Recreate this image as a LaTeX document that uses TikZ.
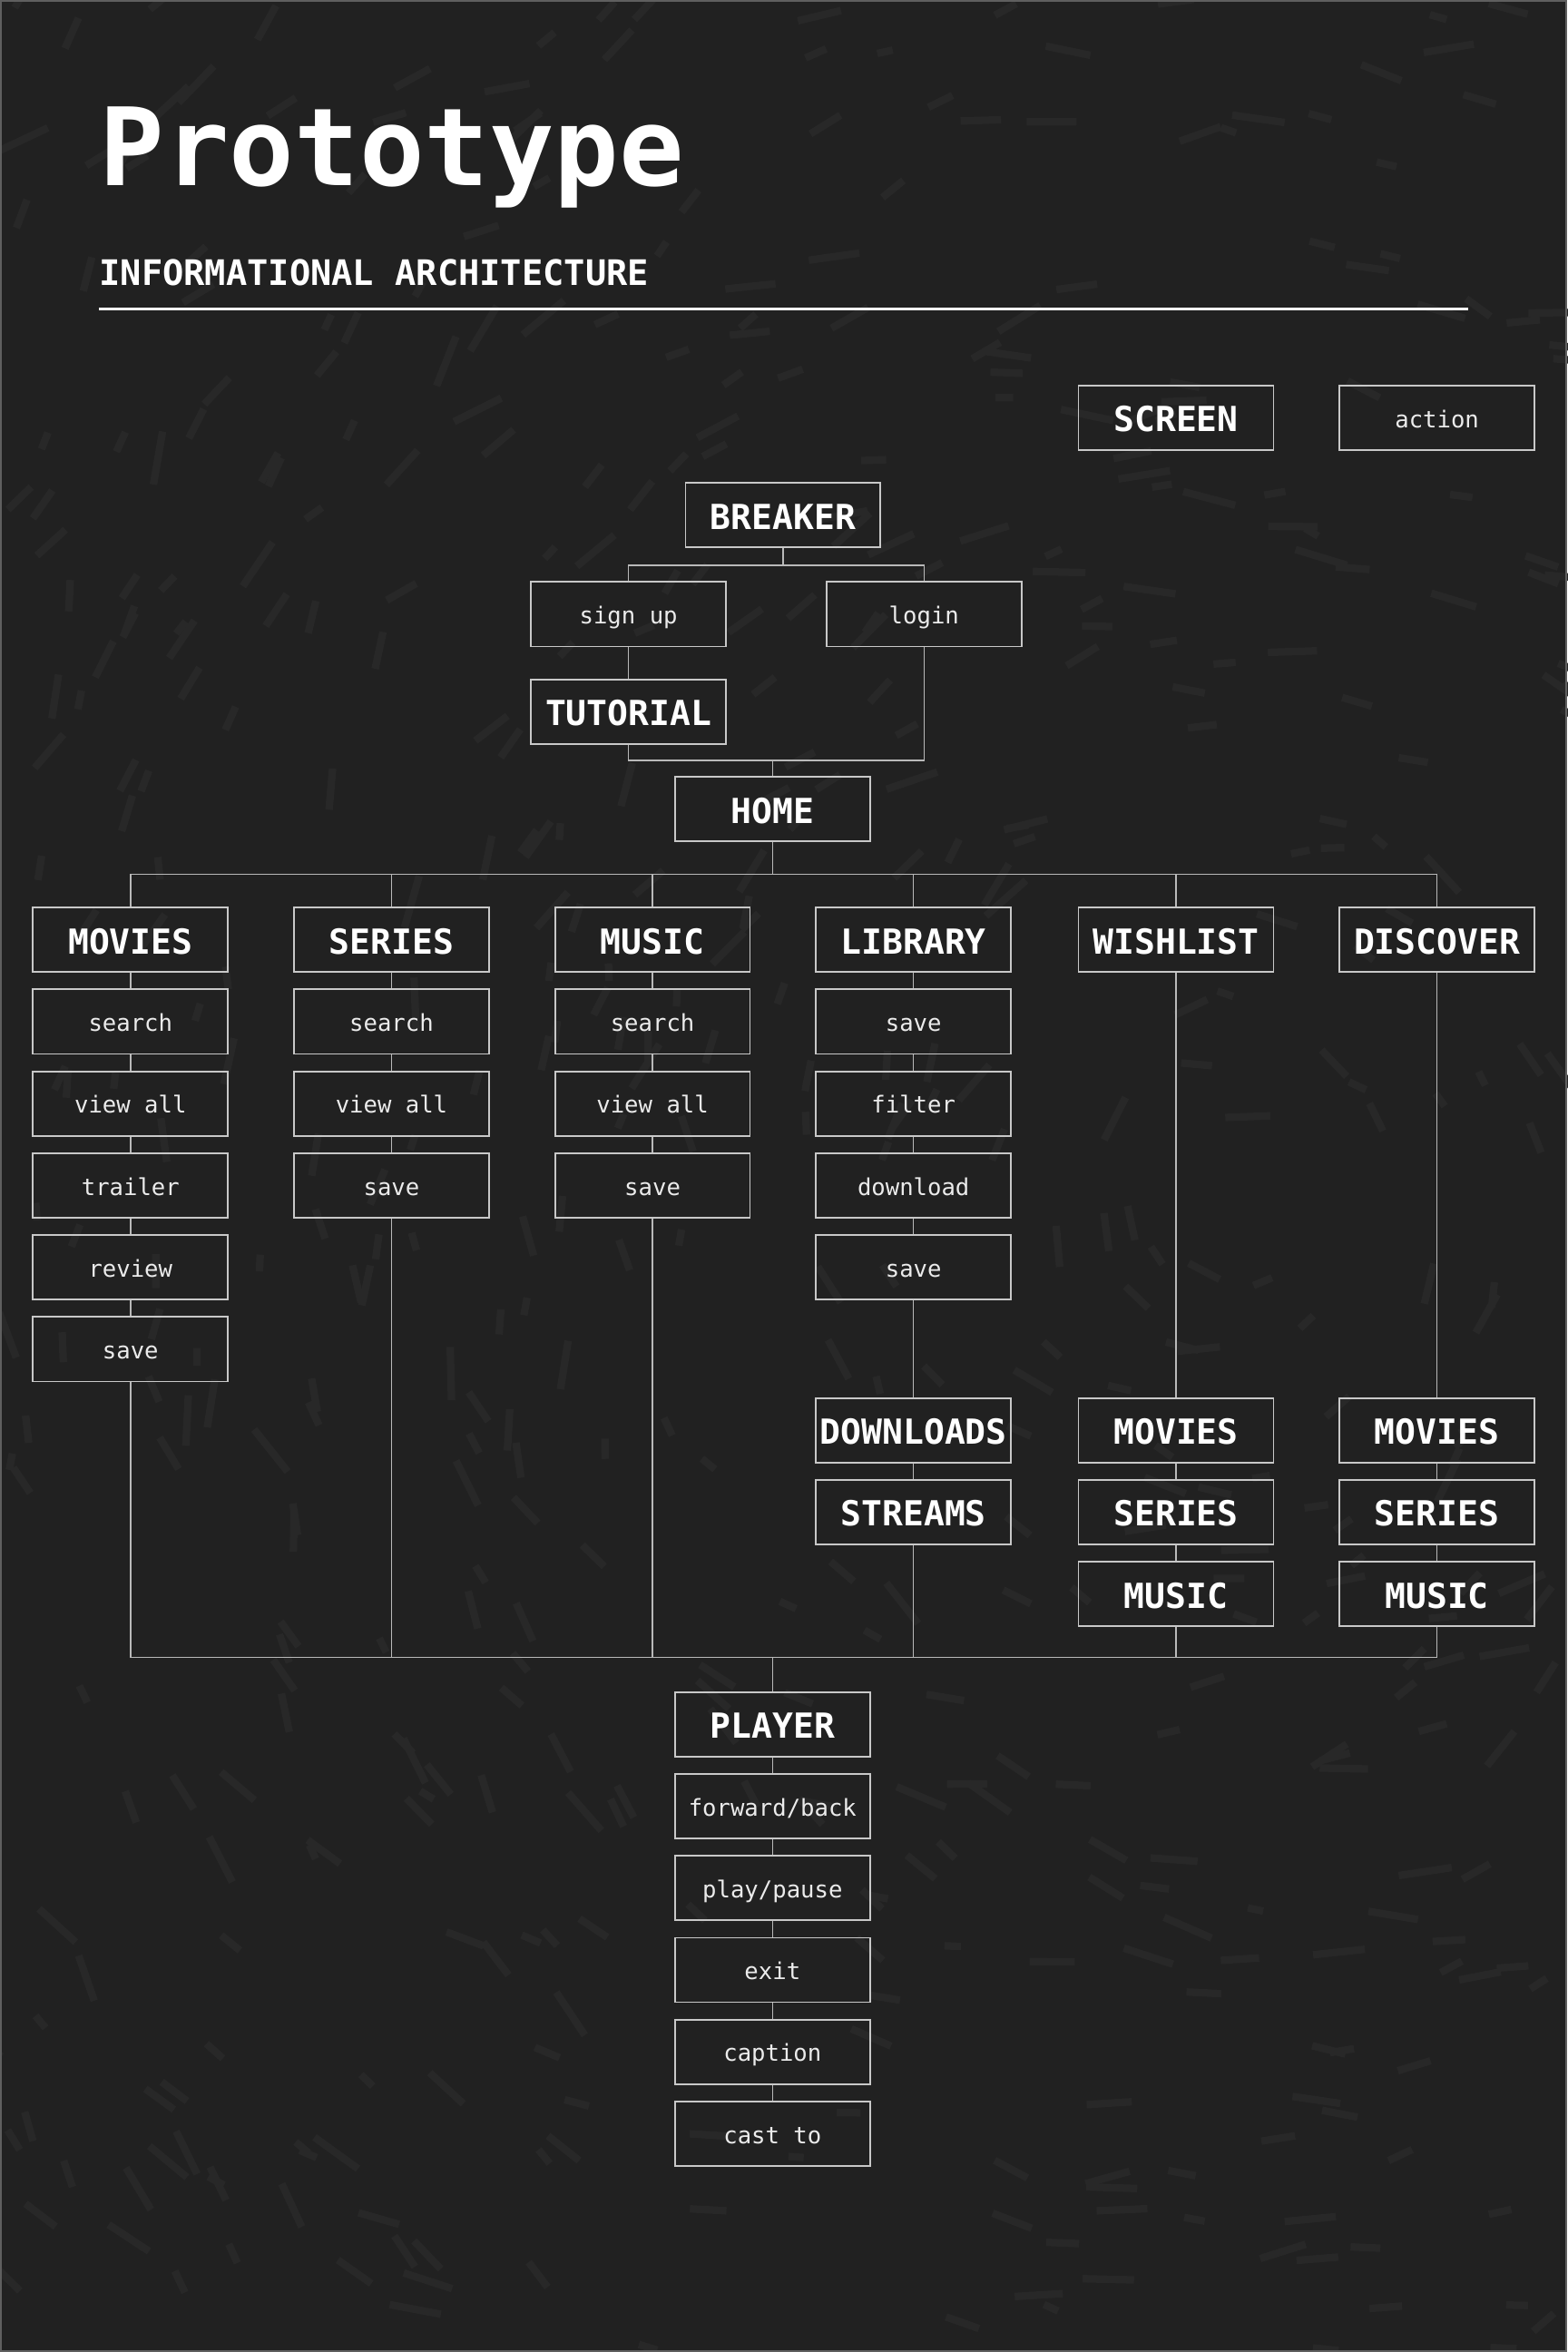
\documentclass[tikz,border=0pt]{standalone}
\usepackage{fontspec}
\setmainfont{DejaVu Sans Mono}
\usetikzlibrary{positioning}
\definecolor{bgdark}{RGB}{33,33,33}
\definecolor{bgspeck}{RGB}{40,40,40}
\definecolor{edgegray}{RGB}{95,95,95}
\definecolor{linegray}{RGB}{185,185,185}
\definecolor{framegray}{RGB}{200,200,200}
\tikzset{
  screenbox/.style={draw=framegray, line width=1.1pt, minimum width=130pt, minimum height=43pt,
    inner sep=0pt, text=white, font=\fontsize{23}{23}\selectfont\bfseries,
    text height=18.6pt, text depth=0pt},
  actionbox/.style={draw=framegray, line width=1.1pt, minimum width=130pt, minimum height=43pt,
    inner sep=0pt, text=white!92!black, font=\fontsize{15.5}{15.5}\selectfont,
    text height=13pt, text depth=0pt},
  wireline/.style={draw=linegray, line width=0.9pt}
}

\begin{document}
\begin{tikzpicture}[x=1pt,y=-1pt]
    % page
    \fill[bgdark] (0,0) rectangle (1045,1568);
    \useasboundingbox (0,0) rectangle (1045,1568);
    \pgfmathsetseed{11}
    \foreach \i in {1,...,520} {
      \pgfmathsetmacro\px{rnd*1045}
      \pgfmathsetmacro\py{rnd*1568}
      \pgfmathsetmacro\ang{atan2(\py-800,\px-820)+90+rand*25}
      \pgfmathsetmacro\len{10+rnd*26}
      \draw[bgspeck, line width=5pt] (\px,\py) -- ++(\ang:\len);
    }
    \draw[edgegray, line width=1.2pt] (0.6,0.6) rectangle (1044.4,1567.4);

    % title
    \node[anchor=base west, inner sep=0pt, text=white, font=\fontsize{72}{72}\selectfont\bfseries] (title) at (66,124) {Prototype};
    \node[anchor=base west, inner sep=0pt, text=white, font=\fontsize{23.4}{23.4}\selectfont\bfseries] (subtitle) at (66,190) {INFORMATIONAL ARCHITECTURE};
    \draw[white, line width=2pt] (66,206) -- (979,206);

    % legend
    \node[screenbox] (legscreen) at (784,278.5) {SCREEN};
    \node[actionbox] (legaction) at (958,278.5) {action};

    % entry
    \node[screenbox] (breaker) at (522,343.5) {BREAKER};
    \node[actionbox] (signup) at (419,409.5) {sign up};
    \node[actionbox] (login) at (616,409.5) {login};
    \node[screenbox] (tutorial) at (419,474.5) {TUTORIAL};
    \node[screenbox] (home) at (515,539.5) {HOME};

    \coordinate (bbus) at (522,377);
    \draw[wireline] (breaker) -- (bbus);
    \draw[wireline] (bbus) -| (signup.north);
    \draw[wireline] (bbus) -| (login.north);
    \draw[wireline] (signup) -- (tutorial);
    \coordinate (tbus) at (515,507);
    \draw[wireline] (tutorial.south) |- (tbus);
    \draw[wireline] (login.south) |- (tbus);
    \draw[wireline] (tbus) -- (home);

    % sections
    \node[screenbox] (movies) at (87,626.5) {MOVIES};
    \node[actionbox] (mvsearch) at (87,681.1) {search};
    \node[actionbox] (mvviewall) at (87,735.7) {view all};
    \node[actionbox] (mvtrailer) at (87,790.3) {trailer};
    \node[actionbox] (mvreview) at (87,844.9) {review};
    \node[actionbox] (mvsave) at (87,899.5) {save};

    \node[screenbox] (series) at (261,626.5) {SERIES};
    \node[actionbox] (srsearch) at (261,681.1) {search};
    \node[actionbox] (srviewall) at (261,735.7) {view all};
    \node[actionbox] (srsave) at (261,790.3) {save};

    \node[screenbox] (music) at (435,626.5) {MUSIC};
    \node[actionbox] (mssearch) at (435,681.1) {search};
    \node[actionbox] (msviewall) at (435,735.7) {view all};
    \node[actionbox] (mssave) at (435,790.3) {save};

    \node[screenbox] (library) at (609,626.5) {LIBRARY};
    \node[actionbox] (lbsave) at (609,681.1) {save};
    \node[actionbox] (lbfilter) at (609,735.7) {filter};
    \node[actionbox] (lbdownload) at (609,790.3) {download};
    \node[actionbox] (lbsavetwo) at (609,844.9) {save};
    \node[screenbox] (downloads) at (609,953.5) {DOWNLOADS};
    \node[screenbox] (streams) at (609,1008.1) {STREAMS};

    \node[screenbox] (wishlist) at (784,626.5) {WISHLIST};
    \node[screenbox] (wsmovies) at (784,953.5) {MOVIES};
    \node[screenbox] (wsseries) at (784,1008.1) {SERIES};
    \node[screenbox] (wsmusic) at (784,1062.7) {MUSIC};

    \node[screenbox] (discover) at (958,626.5) {DISCOVER};
    \node[screenbox] (dcmovies) at (958,953.5) {MOVIES};
    \node[screenbox] (dcseries) at (958,1008.1) {SERIES};
    \node[screenbox] (dcmusic) at (958,1062.7) {MUSIC};

    \coordinate (hbus) at (515,583);
    \draw[wireline] (home) -- (hbus);
    \foreach \to in {movies,series,music,library,wishlist,discover}
    \draw[wireline] (hbus) -| (\to.north);

    \foreach \from/\to in {movies/mvsearch, mvsearch/mvviewall, mvviewall/mvtrailer, mvtrailer/mvreview, mvreview/mvsave,
        series/srsearch, srsearch/srviewall, srviewall/srsave,
        music/mssearch, mssearch/msviewall, msviewall/mssave,
        library/lbsave, lbsave/lbfilter, lbfilter/lbdownload, lbdownload/lbsavetwo, lbsavetwo/downloads, downloads/streams,
        wishlist/wsmovies, wsmovies/wsseries, wsseries/wsmusic,
        discover/dcmovies, dcmovies/dcseries, dcseries/dcmusic}
    \draw[wireline] (\from) -- (\to);

    % player
    \node[screenbox] (player) at (515,1149.5) {PLAYER};
    \node[actionbox] (plforward) at (515,1204.1) {forward/back};
    \node[actionbox] (plplay) at (515,1258.7) {play/pause};
    \node[actionbox] (plexit) at (515,1313.3) {exit};
    \node[actionbox] (plcaption) at (515,1367.9) {caption};
    \node[actionbox] (plcast) at (515,1422.5) {cast to};

    \coordinate (pbus) at (515,1105);
    \foreach \from in {mvsave,srsave,mssave,streams,wsmusic,dcmusic}
    \draw[wireline] (\from.south) |- (pbus);
    \draw[wireline] (pbus) -- (player);

    \foreach \from/\to in {player/plforward, plforward/plplay, plplay/plexit, plexit/plcaption, plcaption/plcast}
    \draw[wireline] (\from) -- (\to);
\end{tikzpicture}
\end{document}
